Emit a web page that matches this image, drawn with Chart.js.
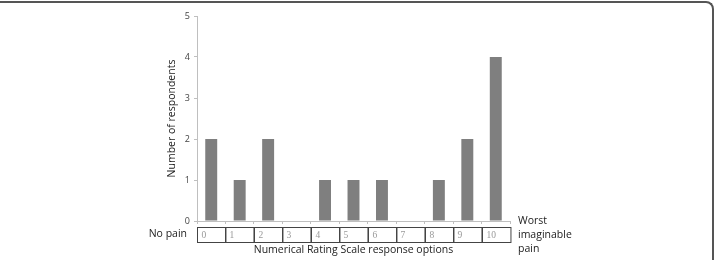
<!DOCTYPE html>
<html lang="en">
  <head>
    <meta charset="UTF-8">
    <title>Numerical Rating Scale responses</title>
    <script src="https://cdn.jsdelivr.net/npm/chart.js"></script>
    <style>
      html, body {
        margin: 0;
        padding: 0;
        background: #fff;
        overflow: hidden;
      }

      /* panel frame: top and right edge with a rounded corner */
      .frame {
        position: absolute;
        left: -2px;
        top: 1px;
        width: 716px;
        height: 280px;
        border-top: 2px solid #555;
        border-right: 2px solid #555;
        border-top-right-radius: 8px;
        box-sizing: border-box;
      }

      .chart-box {
        position: absolute;
        left: 0;
        top: 0;
        width: 719px;
        height: 260px;
      }
    </style>
  </head>
  <body>
    <div class="frame"></div>
    <div class="chart-box">
      <canvas id="nrsChart" width="719" height="260"></canvas>
    </div>
    <script>
      // rating scale options 0..10
      const scaleLabels = ['0', '1', '2', '3', '4', '5', '6', '7', '8', '9', '10'];
      // respondents for each option
      const respondents = [2, 1, 2, 0, 1, 1, 1, 0, 1, 2, 4];
      const yTicks = [0, 1, 2, 3, 4, 5];

      const sansFont = "'Open Sans', 'Liberation Sans', sans-serif";

      // draws the number table under the x axis plus the side captions
      const scaleTablePlugin = {
        id: 'scaleTable',
        afterDraw(chart) {
          const ctx = chart.ctx;
          const x = chart.scales.x;
          const y = chart.scales.y;
          const step = x.getPixelForValue(1) - x.getPixelForValue(0);
          const boxTop = y.getPixelForValue(0) + 6;
          const boxH = 15;

          ctx.save();
          ctx.strokeStyle = '#444';
          ctx.lineWidth = 1;
          scaleLabels.forEach((lab, i) => {
            const left = Math.round(x.getPixelForValue(i) - step / 2) + 0.5;
            ctx.strokeRect(left, boxTop + 0.5, step, boxH);
            ctx.fillStyle = '#999';
            ctx.font = "9.5px 'Liberation Serif', 'DejaVu Serif', serif";
            ctx.textAlign = 'left';
            ctx.textBaseline = 'middle';
            ctx.fillText(lab, left + 4, boxTop + boxH / 2 + 1);
          });

          ctx.fillStyle = '#222';
          ctx.font = '10.5px ' + sansFont;
          ctx.textBaseline = 'middle';

          // left caption
          ctx.textAlign = 'right';
          ctx.fillText('No pain', x.left - 10, boxTop + boxH / 2);

          // axis title under the table
          ctx.textAlign = 'center';
          ctx.fillText('Numerical Rating Scale response options', (x.left + x.right) / 2, boxTop + boxH + 8);

          // right caption
          ctx.textAlign = 'left';
          const rx = x.right + 8;
          ctx.fillText('Worst', rx, y.getPixelForValue(0));
          ctx.fillText('imaginable', rx, y.getPixelForValue(0) + 14);
          ctx.fillText('pain', rx, y.getPixelForValue(0) + 28);

          // y axis title
          ctx.translate(x.left - 25, (y.top + y.bottom) / 2);
          ctx.rotate(-Math.PI / 2);
          ctx.textAlign = 'center';
          ctx.fillText('Number of respondents', 0, 0);
          ctx.restore();
        }
      };

      const ctx = document.getElementById('nrsChart').getContext('2d');
      const nrsChart = new Chart(ctx, {
        type: 'bar',
        data: {
          labels: scaleLabels,
          datasets: [{
            label: 'Respondents',
            data: respondents,
            backgroundColor: '#7f7f7f',
            borderWidth: 0,
            barPercentage: 0.42,
            categoryPercentage: 1
          }]
        },
        options: {
          responsive: false,
          animation: false,
          layout: {
            padding: { top: 16, right: 209, left: 0, bottom: 0 }
          },
          plugins: {
            legend: { display: false },
            tooltip: { enabled: false }
          },
          scales: {
            x: {
              afterFit: (scale) => { scale.height = 39; },
              grid: {
                display: true,
                drawOnChartArea: false,
                drawTicks: true,
                tickLength: 3,
                color: '#bfbfbf'
              },
              border: { color: '#bfbfbf', width: 1 },
              ticks: { display: false }
            },
            y: {
              min: 0,
              max: 5,
              afterFit: (scale) => { scale.width = 197; },
              afterBuildTicks: (scale) => {
                scale.ticks = yTicks.map(v => ({ value: v }));
              },
              grid: {
                display: true,
                drawOnChartArea: false,
                drawTicks: true,
                tickLength: 3,
                color: '#bfbfbf'
              },
              border: { color: '#bfbfbf', width: 1 },
              ticks: {
                padding: 4,
                color: '#444',
                font: { family: sansFont, size: 9 }
              }
            }
          }
        },
        plugins: [scaleTablePlugin]
      });
    </script>
  </body>
</html>
